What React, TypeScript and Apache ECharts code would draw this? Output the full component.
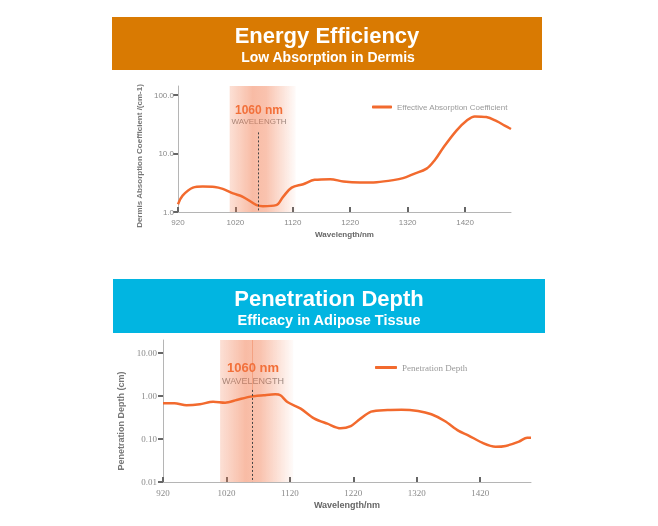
import React, { useEffect, useRef } from "react";
import * as echarts from "echarts";

const xTicks = [920, 1020, 1120, 1220, 1320, 1420];
const absTicks = [1, 10, 100];
const depthTicks = [0.01, 0.1, 1, 10];

const absWavelength = [920, 928, 946, 963, 984, 998, 1016, 1033, 1057, 1068, 1091, 1103, 1118, 1138, 1158, 1185, 1208, 1237, 1266, 1295, 1312, 1330, 1353, 1368, 1382, 1405, 1423, 1437, 1457, 1475, 1489, 1500];
const absValues = [1.36, 1.9, 2.61, 2.72, 2.68, 2.48, 2.08, 1.82, 1.31, 1.26, 1.31, 1.82, 2.61, 2.99, 3.55, 3.65, 3.32, 3.19, 3.24, 3.51, 3.8, 4.46, 5.52, 7.92, 12.6, 24.7, 36.7, 43.1, 42, 35.8, 30.1, 26.3];

const depthWavelength = [920, 938, 957, 978, 999, 1018, 1036, 1058, 1079, 1097, 1105, 1116, 1137, 1158, 1179, 1200, 1216, 1230, 1248, 1274, 1296, 1322, 1343, 1364, 1386, 1401, 1423, 1444, 1460, 1481, 1494, 1500];
const depthValues = [0.675, 0.675, 0.607, 0.64, 0.738, 0.7, 0.807, 0.965, 1.04, 1.09, 1.04, 0.725, 0.507, 0.302, 0.227, 0.177, 0.2, 0.287, 0.432, 0.472, 0.48, 0.448, 0.375, 0.262, 0.154, 0.122, 0.082, 0.066, 0.069, 0.087, 0.107, 0.107];

const bandRange = [1010, 1125];
const markWavelength = 1060;

const ORANGE = "#F26A2E";
const GRAY = "#8a8a8a";

function bandGradient() {
  return new echarts.graphic.LinearGradient(0, 0, 1, 0, [
    { offset: 0, color: "rgba(242,125,80,0.24)" },
    { offset: 0.35, color: "rgba(242,120,75,0.5)" },
    { offset: 0.55, color: "rgba(242,120,75,0.45)" },
    { offset: 1, color: "rgba(242,125,80,0.03)" },
  ]);
}

export default function App() {
  const ref = useRef<HTMLDivElement>(null);
  useEffect(() => {
    if (!ref.current) return;
    const chart = echarts.init(ref.current, null, { renderer: "svg" });
    const absData = absWavelength.map((w, i) => [w, absValues[i]]);
    const depthData = depthWavelength.map((w, i) => [w, depthValues[i]]);
    const sans = "'Liberation Sans', Arial, sans-serif";
    const serif = "'Liberation Serif', 'DejaVu Serif', serif";

    const xAxisCommon = (gridIndex: number, font: string, size: number) => ({
      type: "value",
      gridIndex,
      min: 920,
      max: 1500,
      name: "Wavelength/nm",
      nameLocation: "middle",
      nameGap: 18,
      nameTextStyle: { color: "#666", fontSize: size, fontWeight: "bold", fontFamily: sans },
      axisLine: { lineStyle: { color: "#b5b5b5", width: 1 } },
      axisTick: { show: true, inside: true, length: 5, customValues: xTicks, lineStyle: { color: "#666", width: 2 } },
      axisLabel: { customValues: xTicks, color: GRAY, fontSize: size, fontFamily: font, margin: 6, formatter: (v: number) => String(v) },
      splitLine: { show: false },
    });

    chart.setOption({
      animation: false,
      graphic: [
        { type: "rect", shape: { x: 112, y: 17, width: 430, height: 53 }, style: { fill: "#D97A02" } },
        { type: "text", x: 327, y: 35, style: { text: "Energy Efficiency", fill: "#fff", font: `bold 22px ${sans}`, textAlign: "center", textVerticalAlign: "middle" } },
        { type: "text", x: 328, y: 57, style: { text: "Low Absorption in Dermis", fill: "#fff", font: `bold 14px ${sans}`, textAlign: "center", textVerticalAlign: "middle" } },
        { type: "rect", shape: { x: 113, y: 279, width: 432, height: 54 }, style: { fill: "#01B5E1" } },
        { type: "text", x: 329, y: 298, style: { text: "Penetration Depth", fill: "#fff", font: `bold 22px ${sans}`, textAlign: "center", textVerticalAlign: "middle" } },
        { type: "text", x: 329, y: 320, style: { text: "Efficacy in Adipose Tissue", fill: "#fff", font: `bold 14.5px ${sans}`, textAlign: "center", textVerticalAlign: "middle" } },
        { type: "text", x: 259, y: 110, style: { text: "1060 nm", fill: ORANGE, font: `bold 12px ${sans}`, textAlign: "center", textVerticalAlign: "middle" } },
        { type: "text", x: 259, y: 121, style: { text: "WAVELENGTH", fill: "#8a8a8a", font: `8px ${sans}`, textAlign: "center", textVerticalAlign: "middle" } },
        { type: "text", x: 253, y: 367, style: { text: "1060 nm", fill: ORANGE, font: `bold 13px ${sans}`, textAlign: "center", textVerticalAlign: "middle" } },
        { type: "text", x: 253, y: 381, style: { text: "WAVELENGTH", fill: "#8a8a8a", font: `9px ${sans}`, textAlign: "center", textVerticalAlign: "middle" } },
      ],
      grid: [
        { left: 178, right: 147, top: 86, bottom: 314 },
        { left: 163, right: 127, top: 340, bottom: 44 },
      ],
      legend: [
        {
          left: 367, top: 98, icon: "roundRect", itemWidth: 20, itemHeight: 3, itemGap: 4,
          data: ["Effective Absorption Coefficient"],
          textStyle: { color: "#9a9a9a", fontSize: 8, fontFamily: sans },
        },
        {
          left: 370, top: 358, icon: "roundRect", itemWidth: 22, itemHeight: 3, itemGap: 4,
          data: ["Penetration Depth"],
          textStyle: { color: "#9a9a9a", fontSize: 9, fontFamily: serif },
        },
      ],
      xAxis: [xAxisCommon(0, sans, 8), xAxisCommon(1, serif, 9)],
      yAxis: [
        {
          type: "log",
          gridIndex: 0,
          logBase: 10,
          min: 1,
          max: 143,
          name: "Dermis Absorption Coefficient /(cm-1)",
          nameLocation: "middle",
          nameGap: 33,
          nameTextStyle: { color: "#777", fontSize: 8, fontWeight: "bold", fontFamily: sans, padding: [0, 14, 0, 0] },
          axisLine: { show: true, lineStyle: { color: "#b5b5b5" } },
          axisTick: { show: true, length: 5, customValues: absTicks, lineStyle: { color: "#666", width: 2 } },
          axisLabel: { customValues: absTicks, color: GRAY, fontSize: 8, fontFamily: sans, margin: 4, formatter: (v: number) => v.toFixed(1) },
          splitLine: { show: false },
        },
        {
          type: "log",
          gridIndex: 1,
          logBase: 10,
          min: 0.01,
          max: 20,
          name: "Penetration Depth (cm)",
          nameLocation: "middle",
          nameGap: 35,
          nameTextStyle: { color: "#777", fontSize: 9, fontWeight: "bold", fontFamily: sans, padding: [0, 20, 0, 0] },
          axisLine: { show: true, lineStyle: { color: "#b5b5b5" } },
          axisTick: { show: true, length: 5, customValues: depthTicks, lineStyle: { color: "#666", width: 2 } },
          axisLabel: { customValues: depthTicks, color: GRAY, fontSize: 9, fontFamily: serif, margin: 6, formatter: (v: number) => v.toFixed(2) },
          splitLine: { show: false },
        },
      ],
      series: [
        {
          name: "Effective Absorption Coefficient",
          type: "line",
          xAxisIndex: 0,
          yAxisIndex: 0,
          data: absData,
          smooth: 0.35,
          symbol: "none",
          lineStyle: { color: ORANGE, width: 2.5 },
          itemStyle: { color: ORANGE },
          markArea: {
            silent: true,
            itemStyle: { color: bandGradient() },
            data: [[{ xAxis: bandRange[0] }, { xAxis: bandRange[1] }]],
          },
          markLine: {
            silent: true,
            symbol: "none",
            label: { show: false },
            lineStyle: { color: "#444", type: [2, 2], width: 1 },
            data: [[{ coord: [markWavelength, 23] }, { coord: [markWavelength, 1] }]],
          },
        },
        {
          name: "Penetration Depth",
          type: "line",
          xAxisIndex: 1,
          yAxisIndex: 1,
          data: depthData,
          smooth: 0.3,
          symbol: "none",
          lineStyle: { color: ORANGE, width: 2.5 },
          itemStyle: { color: ORANGE },
          markArea: {
            silent: true,
            itemStyle: { color: bandGradient() },
            data: [[{ xAxis: bandRange[0] }, { xAxis: bandRange[1] }]],
          },
          markLine: {
            silent: true,
            symbol: "none",
            label: { show: false },
            data: [
              [{ coord: [markWavelength, 1.38], lineStyle: { color: "#444", type: [2, 2], width: 1 } }, { coord: [markWavelength, 0.01] }],
              [{ coord: [markWavelength, 20], lineStyle: { color: "rgba(235,110,60,0.35)", type: "solid", width: 1 } }, { coord: [markWavelength, 1.38] }],
            ],
          },
        },
      ],
    });
    return () => chart.dispose();
  }, []);
  return <div ref={ref} style={{ position: "fixed", left: 0, top: 0, width: 658, height: 526 }} />;
}
